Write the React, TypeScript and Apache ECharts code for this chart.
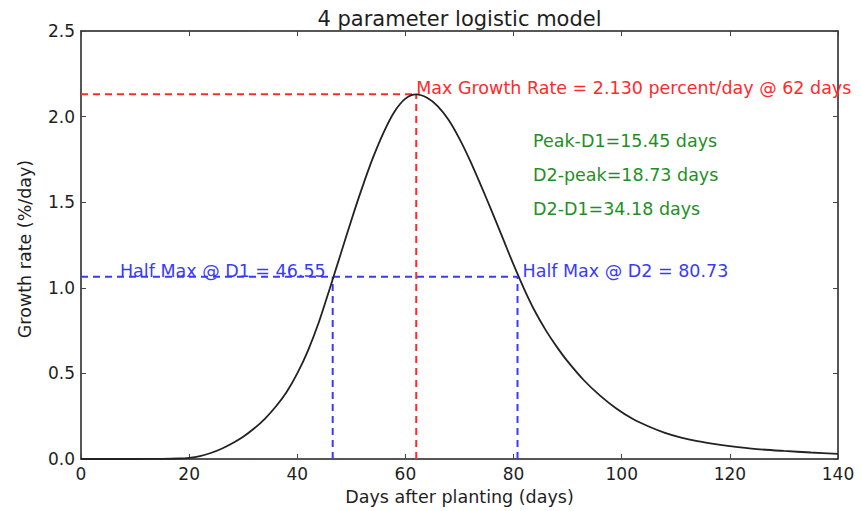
import React, { useEffect, useRef } from "react";
import * as echarts from "echarts";

// Growth-rate curve
const days: number[] = [0, 5, 10, 15, 18, 20, 22, 24, 26, 28, 30, 32, 34, 36, 38, 40, 42, 44, 46, 48, 50, 52, 54, 56, 58, 60, 62, 64, 66, 68, 70, 72, 74, 76, 78, 80, 82, 84, 86, 88, 90, 93, 96, 99, 102, 105, 108, 111, 114, 117, 120, 125, 130, 135, 140];
const rate: number[] = [0.0, 0.0, 0.0, 0.001, 0.003, 0.007, 0.017, 0.035, 0.06, 0.092, 0.13, 0.178, 0.235, 0.305, 0.39, 0.5, 0.635, 0.8, 0.995, 1.195, 1.395, 1.585, 1.76, 1.91, 2.03, 2.105, 2.13, 2.11, 2.06, 1.98, 1.87, 1.74, 1.595, 1.445, 1.29, 1.135, 0.99, 0.86, 0.75, 0.655, 0.57, 0.46, 0.37, 0.295, 0.235, 0.19, 0.153, 0.125, 0.104, 0.088, 0.075, 0.058, 0.047, 0.038, 0.03];

const xTicks: number[] = [0, 20, 40, 60, 80, 100, 120, 140];
const yTicks: number[] = [0, 0.5, 1.0, 1.5, 2.0, 2.5];

const peakDay = 62;
const peakRate = 2.13;
const halfRate = 1.065;
const d1 = 46.55;
const d2 = 80.73;

const titleText = "4 parameter logistic model";
const xName = "Days after planting (days)";
const yName = "Growth rate (%/day)";
const maxText = "Max Growth Rate = 2.130 percent/day @ 62 days";
const d1Text = "Half Max @ D1 = 46.55";
const d2Text = "Half Max @ D2 = 80.73";
const greenTexts: string[] = ["Peak-D1=15.45 days", "D2-peak=18.73 days", "D2-D1=34.18 days"];
const greenX = 83.6;
const greenBaselines: number[] = [1.825, 1.625, 1.425];

const FONT = "DejaVu Sans";
const FS = 17.5;
const RED = "#ff2a2a";
const BLUE = "#3a3aff";
const GREEN = "#1f8f1f";
const INK = "#1e1e1e";

export default function App() {
  const ref = useRef<HTMLDivElement>(null);
  useEffect(() => {
    if (!ref.current) return;
    const chart = echarts.init(ref.current, undefined, { renderer: "svg" });
    const xMin = xTicks[0], xMax = xTicks[xTicks.length - 1];
    const yMin = yTicks[0], yMax = yTicks[yTicks.length - 1];
    const axisCommon = {
      type: "value" as const,
      axisLine: { show: true, onZero: false, lineStyle: { color: INK, width: 1.5 } },
      axisTick: { show: true, inside: true, length: 5, lineStyle: { color: "#444", width: 1 } },
      splitLine: { show: false },
    };
    const dash = [7, 5];
    const option: any = {
      animation: false,
      backgroundColor: "#ffffff",
      grid: { left: 81, top: 31, right: 23, bottom: 52 },
      xAxis: [
        {
          ...axisCommon,
          position: "bottom",
          min: xMin, max: xMax, interval: 20,
          axisLabel: { margin: 6, color: INK, fontFamily: FONT, fontSize: 17 },
        },
        {
          ...axisCommon,
          position: "top",
          min: xMin, max: xMax, interval: 20,
          axisLabel: { show: false },
        },
      ],
      yAxis: [
        {
          ...axisCommon,
          position: "left",
          min: yMin, max: yMax, interval: 0.5,
          axisLabel: { margin: 6, color: INK, fontFamily: FONT, fontSize: 17, formatter: (v: number) => v.toFixed(1) },
        },
        {
          ...axisCommon,
          position: "right",
          min: yMin, max: yMax, interval: 0.5,
          axisLabel: { show: false },
        },
      ],
      series: [
        {
          type: "line", name: "maxH", symbol: "none", silent: true, z: 3,
          data: [[xMin, peakRate], [peakDay, peakRate]],
          lineStyle: { color: RED, width: 2, type: dash },
        },
        {
          type: "line", name: "maxV", symbol: "none", silent: true, z: 3,
          data: [[peakDay, yMin], [peakDay, peakRate]],
          lineStyle: { color: RED, width: 2, type: dash },
        },
        {
          type: "line", name: "halfH", symbol: "none", silent: true, z: 3,
          data: [[xMin, halfRate], [d2, halfRate]],
          lineStyle: { color: BLUE, width: 2, type: dash },
        },
        {
          type: "line", name: "d1V", symbol: "none", silent: true, z: 3,
          data: [[d1, yMin], [d1, halfRate]],
          lineStyle: { color: BLUE, width: 2, type: dash },
        },
        {
          type: "line", name: "d2V", symbol: "none", silent: true, z: 3,
          data: [[d2, yMin], [d2, halfRate]],
          lineStyle: { color: BLUE, width: 2, type: dash },
        },
        {
          type: "line", name: "rate", symbol: "none", silent: true, z: 4,
          smooth: 0.3,
          data: days.map((d, i) => [d, rate[i]]),
          lineStyle: { color: "#222222", width: 1.8 },
        },
      ],
    };
    chart.setOption(option);

    const px = (x: number, y: number) => chart.convertToPixel({ gridIndex: 0 }, [x, y]) as number[];
    const mid = 0.346 * FS; // baseline -> middle offset
    const pPeak = px(peakDay, peakRate);
    const pD1 = px(d1, halfRate);
    const pD2 = px(d2, halfRate);
    const txt = (x: number, y: number, text: string, fill: string, align: string, extra: any = {}) => ({
      type: "text", x, y, z: 100, silent: true,
      style: { text, fill, font: `${FS}px '${FONT}'`, textAlign: align, textVerticalAlign: "middle" },
      ...extra,
    });
    const graphics: any[] = [
      txt(pPeak[0], pPeak[1] - mid, maxText, RED, "left"),
      txt(pD1[0] - 7, pD1[1] - mid, d1Text, BLUE, "right"),
      txt(pD2[0] + 5, pD2[1] - mid, d2Text, BLUE, "left"),
      ...greenTexts.map((t, i) => {
        const p = px(greenX, greenBaselines[i]);
        return txt(p[0], p[1] - mid, t, GREEN, "left");
      }),
    ];
    const pl = px(xMin, yMax);
    const pr = px(xMax, yMin);
    const cx = (pl[0] + pr[0]) / 2;
    const cy = (pl[1] + pr[1]) / 2;
    graphics.push({
      type: "text", x: cx, y: 19, z: 100, silent: true,
      style: { text: titleText, fill: INK, font: `21px '${FONT}'`, textAlign: "center", textVerticalAlign: "middle" },
    });
    graphics.push({
      type: "text", x: cx, y: 497, z: 100, silent: true,
      style: { text: xName, fill: INK, font: `${FS}px '${FONT}'`, textAlign: "center", textVerticalAlign: "middle" },
    });
    graphics.push({
      type: "text", x: 25, y: cy + 4, rotation: Math.PI / 2, z: 100, silent: true,
      style: { text: yName, fill: INK, font: `${FS}px '${FONT}'`, textAlign: "center", textVerticalAlign: "middle" },
    });
    chart.setOption({ graphic: graphics });

    return () => chart.dispose();
  }, []);
  return (
    <div
      ref={ref}
      style={{ position: "fixed", left: 0, top: 0, width: 861, height: 511, background: "#fff" }}
    />
  );
}
